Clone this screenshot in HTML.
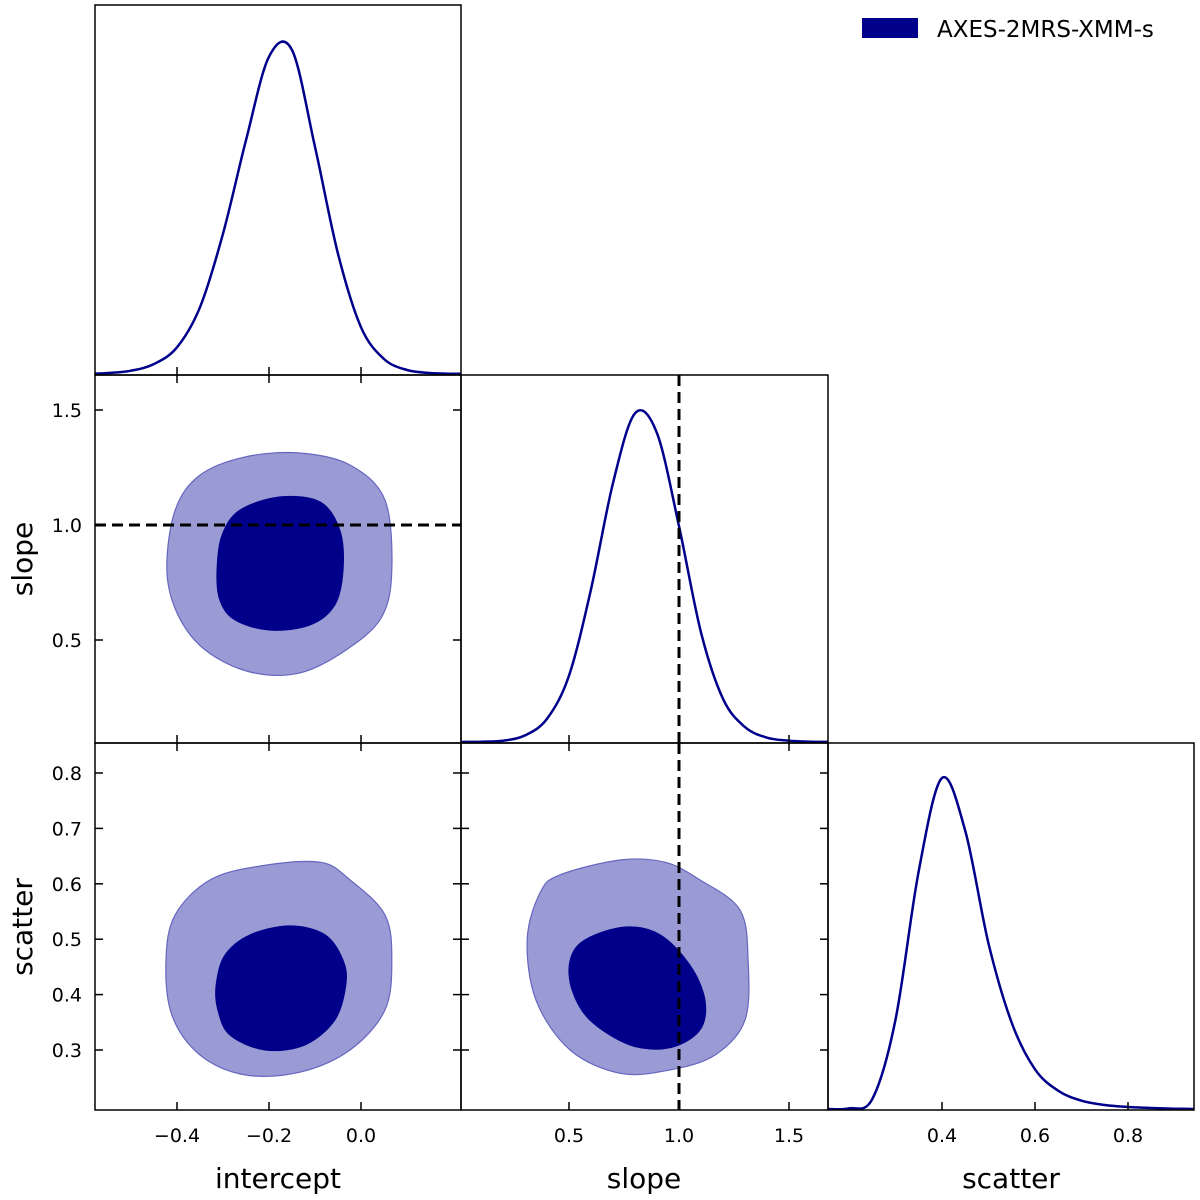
<!DOCTYPE html>
<html><head><meta charset="utf-8"><style>
html,body{margin:0;padding:0;background:#fff;}
svg{display:block;font-family:"DejaVu Sans","Liberation Sans",sans-serif;}
</style></head><body>
<svg id="chart" width="1200" height="1200" viewBox="0 0 1200 1200" xmlns="http://www.w3.org/2000/svg"></svg>
<script>
// ---- data ----
const interceptX = [-0.6,-0.55,-0.5,-0.45,-0.4,-0.35,-0.3,-0.25,-0.2,-0.15,-0.1,-0.05,0.0,0.05,0.1,0.15,0.2,0.25];
const interceptPdf = [0,0.003,0.01,0.03,0.08,0.2,0.42,0.7,0.95,0.97,0.68,0.36,0.14,0.045,0.012,0.003,0.001,0];
const slopeX = [-0.1,0.0,0.1,0.2,0.3,0.4,0.5,0.6,0.7,0.8,0.9,1.0,1.1,1.2,1.3,1.4,1.5,1.6,1.7];
const slopePdf = [0,0,0.001,0.004,0.02,0.07,0.2,0.46,0.78,0.99,0.93,0.65,0.33,0.13,0.045,0.013,0.004,0.001,0];
const scatterX = [0.1,0.15,0.2,0.25,0.3,0.35,0.4,0.45,0.5,0.55,0.6,0.65,0.7,0.75,0.8,0.85,0.9,0.95];
const scatterPdf = [0,0,0.002,0.03,0.27,0.72,1.0,0.84,0.5,0.26,0.12,0.055,0.025,0.012,0.006,0.003,0.001,0];

const isInner_x = [-0.313,-0.302,-0.263,-0.176,-0.089,-0.046,-0.039,-0.057,-0.111,-0.198,-0.274,-0.307];
const isInner_y = [0.804,0.957,1.065,1.122,1.1,0.978,0.804,0.652,0.565,0.543,0.587,0.674];
const isOuter_x = [-0.422,-0.404,-0.35,-0.252,-0.133,-0.024,0.052,0.067,0.045,-0.03,-0.133,-0.241,-0.339,-0.398];
const isOuter_y = [0.804,1.065,1.217,1.296,1.313,1.261,1.109,0.804,0.6,0.46,0.357,0.361,0.457,0.609];

const icInner_x = [-0.315,-0.296,-0.241,-0.154,-0.078,-0.039,-0.033,-0.057,-0.122,-0.209,-0.285,-0.311];
const icInner_y = [0.417,0.471,0.508,0.524,0.508,0.462,0.417,0.354,0.309,0.3,0.327,0.372];
const icOuter_x = [-0.424,-0.404,-0.328,-0.22,-0.089,-0.024,0.052,0.067,0.052,-0.024,-0.133,-0.252,-0.35,-0.411];
const icOuter_y = [0.462,0.544,0.607,0.632,0.639,0.607,0.544,0.462,0.372,0.3,0.26,0.255,0.291,0.363];

const scInner_x = [0.505,0.573,0.755,0.914,1.05,1.118,1.095,0.959,0.777,0.595,0.514];
const scInner_y = [0.462,0.499,0.522,0.508,0.453,0.39,0.336,0.304,0.309,0.354,0.408];
const scOuter_x = [0.31,0.37,0.459,0.732,0.936,1.095,1.277,1.314,1.3,1.164,0.959,0.732,0.505,0.35];
const scOuter_y = [0.5,0.585,0.616,0.643,0.639,0.607,0.553,0.462,0.354,0.291,0.264,0.258,0.3,0.39];

const interceptTicks = [-0.4,-0.2,0.0];
const interceptTickLabels = ["\u22120.4","\u22120.2","0.0"];
const slopeTicks = [0.5,1.0,1.5];
const slopeTickLabels = ["0.5","1.0","1.5"];
const scatterYTicks = [0.3,0.4,0.5,0.6,0.7,0.8];
const scatterYTickLabels = ["0.3","0.4","0.5","0.6","0.7","0.8"];
const scatterXTicks = [0.4,0.6,0.8];
const scatterXTickLabels = ["0.4","0.6","0.8"];
const truthSlope = 1.0;

// ---- layout ----
const svg = document.getElementById('chart');
const NS = 'http://www.w3.org/2000/svg';
const colL=[95,461,828], colR=[461,828,1194];
const rowT=[5,375,743], rowB=[375,743,1110];
function lin(d0,d1,p0,p1){return v=>p0+(v-d0)*(p1-p0)/(d1-d0);}
const xInt = lin(-0.4,0.0,177,361);
const xSlope = lin(0.5,1.5,569,789);
const xScat = lin(0.4,0.8,942,1128);
const ySlope = lin(0.5,1.5,640,410);
const yScat = lin(0.3,0.8,1050,773);

function el(tag,attrs,parent){const e=document.createElementNS(NS,tag);for(const k in attrs)e.setAttribute(k,attrs[k]);(parent||svg).appendChild(e);return e;}
function crOpen(pts){let d='M'+pts[0][0].toFixed(1)+','+pts[0][1].toFixed(1);for(let i=0;i<pts.length-1;i++){const p0=pts[Math.max(0,i-1)],p1=pts[i],p2=pts[i+1],p3=pts[Math.min(pts.length-1,i+2)];d+=' C'+(p1[0]+(p2[0]-p0[0])/6).toFixed(1)+','+(p1[1]+(p2[1]-p0[1])/6).toFixed(1)+' '+(p2[0]-(p3[0]-p1[0])/6).toFixed(1)+','+(p2[1]-(p3[1]-p1[1])/6).toFixed(1)+' '+p2[0].toFixed(1)+','+p2[1].toFixed(1);}return d;}
function crClosed(pts){const n=pts.length;let d='M'+pts[0][0].toFixed(1)+','+pts[0][1].toFixed(1);for(let i=0;i<n;i++){const p0=pts[(i-1+n)%n],p1=pts[i],p2=pts[(i+1)%n],p3=pts[(i+2)%n];d+=' C'+(p1[0]+(p2[0]-p0[0])/6).toFixed(1)+','+(p1[1]+(p2[1]-p0[1])/6).toFixed(1)+' '+(p2[0]-(p3[0]-p1[0])/6).toFixed(1)+','+(p2[1]-(p3[1]-p1[1])/6).toFixed(1)+' '+p2[0].toFixed(1)+','+p2[1].toFixed(1);}return d+'Z';}

const defs=el('defs',{});
[[0,0],[0,1],[1,1],[0,2],[1,2],[2,2]].forEach(([c,r])=>{const cp=document.createElementNS(NS,'clipPath');cp.setAttribute('id','c'+c+r);defs.appendChild(cp);el('rect',{x:colL[c],y:rowT[r],width:colR[c]-colL[c],height:rowB[r]-rowT[r]},cp);});

function pdf(name,xs,ys,sx,c,r){
  const top=rowT[r]+35, bot=rowB[r]-1;
  const pts=xs.map((x,i)=>[sx(x), bot-ys[i]*(bot-top)]);
  const p=el('path',{d:crOpen(pts),fill:'none',stroke:'#00008b','stroke-width':2.5,'stroke-linejoin':'round','clip-path':'url(#c'+c+r+')'});
  
  
}
function contour(name,xs,ys,sx,sy,c,r,inner){
  const pts=xs.map((x,i)=>[sx(x),sy(ys[i])]);
  const p=el('path',{d:crClosed(pts),fill:inner?'#00008b':'#9a9ad4',stroke:inner?'#00008b':'#6666c0','stroke-width':inner?1:1.2,'clip-path':'url(#c'+c+r+')'});
  
  
}

contour('intercept-slope-outer',isOuter_x,isOuter_y,xInt,ySlope,0,1,false);
contour('intercept-slope-inner',isInner_x,isInner_y,xInt,ySlope,0,1,true);
contour('intercept-scatter-outer',icOuter_x,icOuter_y,xInt,yScat,0,2,false);
contour('intercept-scatter-inner',icInner_x,icInner_y,xInt,yScat,0,2,true);
contour('slope-scatter-outer',scOuter_x,scOuter_y,xSlope,yScat,1,2,false);
contour('slope-scatter-inner',scInner_x,scInner_y,xSlope,yScat,1,2,true);
pdf('intercept-pdf',interceptX,interceptPdf,xInt,0,0);
pdf('slope-pdf',slopeX,slopePdf,xSlope,1,1);
pdf('scatter-pdf',scatterX,scatterPdf,xScat,2,2);

function dash(name,x1,y1,x2,y2){const l=el('line',{x1,y1,x2,y2,stroke:'#000','stroke-width':3,'stroke-dasharray':'11,6'});}
dash('truth-slope-hline',colL[0],ySlope(truthSlope),colR[0],ySlope(truthSlope));
dash('truth-slope-vline-mid',xSlope(truthSlope),rowT[1],xSlope(truthSlope),rowB[1]);
dash('truth-slope-vline-bottom',xSlope(truthSlope),rowT[2],xSlope(truthSlope),rowB[2]);

const TL=8;
function frame(name,c,r){const f=el('rect',{x:colL[c],y:rowT[r],width:colR[c]-colL[c],height:rowB[r]-rowT[r],fill:'none',stroke:'#000','stroke-width':1.5});}
function xt(ticks,sx,c,r,both){ticks.forEach(t=>{const x=sx(t);el('line',{x1:x,y1:rowB[r],x2:x,y2:rowB[r]-TL,stroke:'#000','stroke-width':1.5});if(both)el('line',{x1:x,y1:rowT[r],x2:x,y2:rowT[r]+TL,stroke:'#000','stroke-width':1.5});});}
function yt(ticks,sy,c,r){ticks.forEach(t=>{const y=sy(t);el('line',{x1:colL[c],y1:y,x2:colL[c]+TL,y2:y,stroke:'#000','stroke-width':1.5});el('line',{x1:colR[c],y1:y,x2:colR[c]-TL,y2:y,stroke:'#000','stroke-width':1.5});});}
frame('intercept-pdf-panel',0,0);frame('intercept-slope-panel',0,1);frame('slope-pdf-panel',1,1);
frame('intercept-scatter-panel',0,2);frame('slope-scatter-panel',1,2);frame('scatter-pdf-panel',2,2);
xt(interceptTicks,xInt,0,0,false);xt(interceptTicks,xInt,0,1,true);xt(interceptTicks,xInt,0,2,true);
xt(slopeTicks,xSlope,1,1,false);xt(slopeTicks,xSlope,1,2,true);xt(scatterXTicks,xScat,2,2,false);
yt(slopeTicks,ySlope,0,1);yt(scatterYTicks,yScat,0,2);yt(scatterYTicks,yScat,1,2);

function txt(name,s,x,y,size,anchor,rot){const t=el('text',{x,y,'font-size':size,'text-anchor':anchor||'middle',fill:'#000'});if(rot)t.setAttribute('transform','rotate(-90 '+x+' '+y+')');t.textContent=s;return t;}
interceptTicks.forEach((t,i)=>txt('intercept-tick-label',interceptTickLabels[i],xInt(t),1142,19));
slopeTicks.forEach((t,i)=>txt('slope-x-tick-label',slopeTickLabels[i],xSlope(t),1142,19));
scatterXTicks.forEach((t,i)=>txt('scatter-x-tick-label',scatterXTickLabels[i],xScat(t),1142,19));
slopeTicks.forEach((t,i)=>txt('slope-y-tick-label',slopeTickLabels[i],82,ySlope(t)+7,19,'end'));
scatterYTicks.forEach((t,i)=>txt('scatter-y-tick-label',scatterYTickLabels[i],82,yScat(t)+7,19,'end'));
txt('x-axis-title-intercept','intercept',278,1188,28);
txt('x-axis-title-slope','slope',644,1188,28);
txt('x-axis-title-scatter','scatter',1011,1188,28);
txt('y-axis-title-slope','slope',32,559,28,'middle',true);
txt('y-axis-title-scatter','scatter',32,927,28,'middle',true);

const lr=el('rect',{x:862,y:18,width:56,height:20,fill:'#00008b'});

txt('legend-label','AXES-2MRS-XMM-s',937,37,23,'start');
</script>
</body></html>
